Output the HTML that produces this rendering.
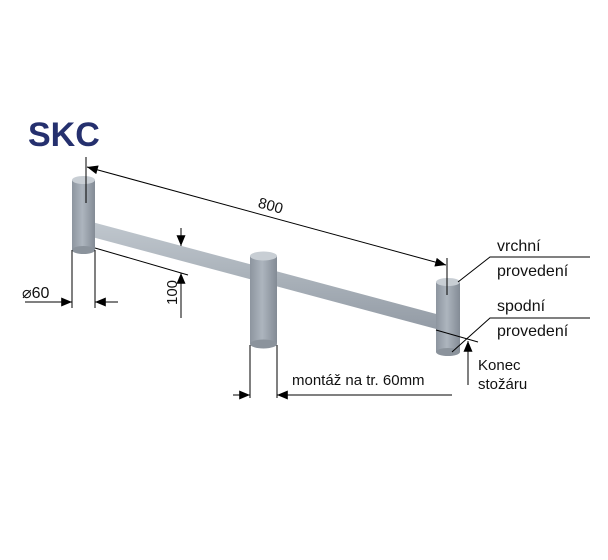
<!DOCTYPE html>
<html><head><meta charset="utf-8"><style>
body{margin:0;background:#fff}
svg{display:block}
text{font-family:"Liberation Sans",sans-serif;fill:#111}
</style></head><body>
<svg width="608" height="560" viewBox="0 0 608 560" xmlns="http://www.w3.org/2000/svg">
<defs>
<linearGradient id="cyl" x1="0" x2="1" y1="0" y2="0">
<stop offset="0" stop-color="#8d959f"/><stop offset="0.45" stop-color="#adb5be"/><stop offset="1" stop-color="#838b95"/>
</linearGradient>
<linearGradient id="bar" x1="0" x2="0" y1="0" y2="1">
<stop offset="0" stop-color="#c0c7ce"/><stop offset="0.5" stop-color="#aab2ba"/><stop offset="1" stop-color="#939ba5"/>
</linearGradient>
<marker id="a" viewBox="0 0 12 10" refX="12" refY="5" markerWidth="12" markerHeight="9" orient="auto-start-reverse" markerUnits="userSpaceOnUse"><path d="M0,0L12,5L0,10z" fill="#000"/></marker>
</defs>
<text x="28" y="146" font-size="34" font-weight="bold" style="fill:#25306e">SKC</text>
<polygon points="92,222 440,315 440,330 92,237" fill="url(#bar)"/>
<rect x="72" y="180" width="23" height="70" fill="url(#cyl)"/>
<ellipse cx="83.5" cy="180" rx="11.5" ry="4" fill="#c8ced4"/>
<ellipse cx="83.5" cy="250" rx="11.5" ry="4" fill="#8b939c"/>
<rect x="250" y="256" width="27" height="88" fill="url(#cyl)"/>
<ellipse cx="263.5" cy="256" rx="13.5" ry="4.5" fill="#c8ced4"/>
<ellipse cx="263.5" cy="344" rx="13.5" ry="4.5" fill="#8b939c"/>
<rect x="436" y="282" width="24" height="70" fill="url(#cyl)"/>
<ellipse cx="448" cy="282" rx="12" ry="4" fill="#c8ced4"/>
<ellipse cx="448" cy="352" rx="12" ry="4" fill="#8b939c"/>
<g stroke="#000" stroke-width="1" fill="none">
<line x1="86" y1="157" x2="86" y2="203"/>
<line x1="447" y1="258" x2="447" y2="295"/>
<line x1="87" y1="167" x2="446" y2="265" marker-start="url(#a)" marker-end="url(#a)"/>
<line x1="72" y1="250" x2="72" y2="308"/>
<line x1="95" y1="250" x2="95" y2="308"/>
<line x1="25" y1="302" x2="72" y2="302" marker-end="url(#a)"/>
<line x1="118" y1="302" x2="95" y2="302" marker-end="url(#a)"/>
<line x1="95" y1="248" x2="188" y2="275"/>
<line x1="181" y1="228" x2="181" y2="246" marker-end="url(#a)"/>
<line x1="181" y1="318" x2="181" y2="273" marker-end="url(#a)"/>
<line x1="250" y1="345" x2="250" y2="398"/>
<line x1="277" y1="345" x2="277" y2="398"/>
<line x1="233" y1="395" x2="250" y2="395" marker-end="url(#a)"/>
<line x1="452" y1="395" x2="277" y2="395" marker-end="url(#a)"/>
<polyline points="458,282 490,257 590,257"/>
<polyline points="452,352 490,318 590,318"/>
<line x1="436" y1="330" x2="478" y2="342"/>
<line x1="468" y1="385" x2="468" y2="341" marker-end="url(#a)"/>
</g>
<text x="258" y="210" font-size="15" transform="rotate(15 268 206)">800</text>
<text x="22" y="298" font-size="16">⌀60</text>
<text x="0" y="0" font-size="15" transform="translate(177 305) rotate(-90)">100</text>
<text x="292" y="385" font-size="15">montáž na tr. 60mm</text>
<text x="497" y="251" font-size="16">vrchní</text>
<text x="497" y="276" font-size="16">provedení</text>
<text x="497" y="311" font-size="16">spodní</text>
<text x="497" y="336" font-size="16">provedení</text>
<text x="478" y="370" font-size="15">Konec</text>
<text x="478" y="389" font-size="15">stožáru</text>
</svg>
</body></html>
